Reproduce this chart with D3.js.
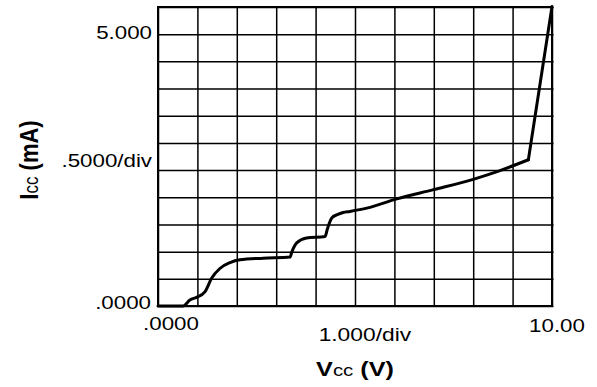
<!DOCTYPE html>
<html>
<head>
<meta charset="utf-8">
<script src="https://cdn.jsdelivr.net/npm/d3@7"></script>
<style>
  body { margin: 0; background: #fff; }
  text { font-family: "Liberation Sans", Arial, sans-serif; fill: #000; }
</style>
</head>
<body>
<svg id="chart"></svg>
<script>
// Vcc (V) vs Icc (mA)
const vcc = [0, 0.64, 0.81, 0.98, 1.19, 1.36, 1.57, 1.83, 2.08, 2.67, 3.35, 3.40, 3.52, 3.77, 4.24, 4.30, 4.41, 4.55, 4.70, 4.87, 5.30, 6.06, 6.99, 8.00, 8.68, 9.40, 10.0];
const icc = [0, 0, 0.11, 0.16, 0.26, 0.51, 0.69, 0.80, 0.85, 0.88, 0.90, 1.00, 1.16, 1.25, 1.28, 1.42, 1.62, 1.68, 1.72, 1.74, 1.80, 1.97, 2.14, 2.33, 2.49, 2.69, 5.51];
const kneeIndex = 25; // trace turns sharply upward here

const xDivs = d3.range(0, 11, 1);        // 1.000/div
const yDivs = d3.range(0, 5.51, 0.5);    // .5000/div
const yLabels = ["5.000", ".5000/div", ".0000"];
const xLabels = [".0000", "1.000/div", "10.00"];

const width = 597, height = 387;
const margin = {top: 7, right: 45, bottom: 81, left: 158};
const innerW = width - margin.left - margin.right;
const innerH = height - margin.top - margin.bottom;
const sx = 1.2; // text in the source is drawn a little wide

const svg = d3.select("#chart").attr("width", width).attr("height", height);
const chart = svg.append("g").attr("transform", `translate(${margin.left},${margin.top})`);

const x = d3.scaleLinear().domain([0, 10]).range([0, innerW]);
const y = d3.scaleLinear().domain([0, 5.5]).range([innerH, 0]);

// grid via axes
chart.append("g")
    .attr("transform", `translate(0,${innerH})`)
    .call(d3.axisBottom(x).tickValues(xDivs).tickSize(-innerH).tickFormat(""))
    .call(g => g.select(".domain").remove())
    .selectAll("line").attr("stroke", "#000").attr("stroke-width", 1.5);

chart.append("g")
    .call(d3.axisLeft(y).tickValues(yDivs).tickSize(-innerW - 1.5).tickFormat(""))
    .call(g => g.select(".domain").remove())
    .selectAll("line").attr("stroke", "#000").attr("stroke-width", 1.5);

chart.append("rect")
    .attr("width", innerW).attr("height", innerH)
    .attr("fill", "none").attr("stroke", "#000").attr("stroke-width", 2);

// trace: smooth steps, then a straight run after the knee
const pts = vcc.map((v, i) => [v, icc[i]]);
const line = d3.line().x(d => x(d[0])).y(d => y(d[1]));
chart.append("path")
    .datum(pts.slice(0, kneeIndex + 1))
    .attr("fill", "none").attr("stroke", "#000").attr("stroke-width", 3)
    .attr("stroke-linejoin", "round").attr("stroke-linecap", "round")
    .attr("d", line.curve(d3.curveMonotoneX));
chart.append("path")
    .datum(pts.slice(kneeIndex))
    .attr("fill", "none").attr("stroke", "#000").attr("stroke-width", 3)
    .attr("stroke-linecap", "round")
    .attr("d", line.curve(d3.curveLinear));

function label(parent, tx, ty, txt, anchor, size) {
    parent.append("g")
        .attr("transform", `translate(${tx},${ty}) scale(${sx},1)`)
        .append("text")
        .attr("text-anchor", anchor)
        .attr("font-size", size)
        .text(txt);
}

// y tick labels
label(chart, -6, y(5) + 4.5, yLabels[0], "end", 18.6);
label(chart, -6, y(2.5) - 3.5, yLabels[1], "end", 18.6);
label(chart, -7, y(0) + 2.5, yLabels[2], "end", 18.6);

// x tick labels
label(chart, x(0) + 13, innerH + 23.5, xLabels[0], "middle", 18.6);
label(chart, x(5.25), innerH + 34.5, xLabels[1], "middle", 19);
label(chart, x(10) + 5, innerH + 26, xLabels[2], "middle", 18.6);

// axis titles
const xt = svg.append("g")
    .attr("transform", `translate(${margin.left + x(5)},${margin.top + innerH + 70}) scale(${sx},1)`)
    .append("text").attr("text-anchor", "middle").attr("font-size", 21);
xt.append("tspan").attr("font-weight", "bold").text("V");
xt.append("tspan").attr("font-size", 17).text("cc");
xt.append("tspan").attr("font-weight", "bold").text(" (V)");

const yt = svg.append("g")
    .attr("transform", `translate(38,${margin.top + 153}) rotate(-90) scale(1,${sx})`)
    .append("text").attr("text-anchor", "middle").attr("font-size", 22);
yt.append("tspan").attr("font-weight", "bold").text("I");
yt.append("tspan").attr("font-size", 17).text("cc");
yt.append("tspan").attr("font-weight", "bold").text(" (mA)");
</script>
</body>
</html>
